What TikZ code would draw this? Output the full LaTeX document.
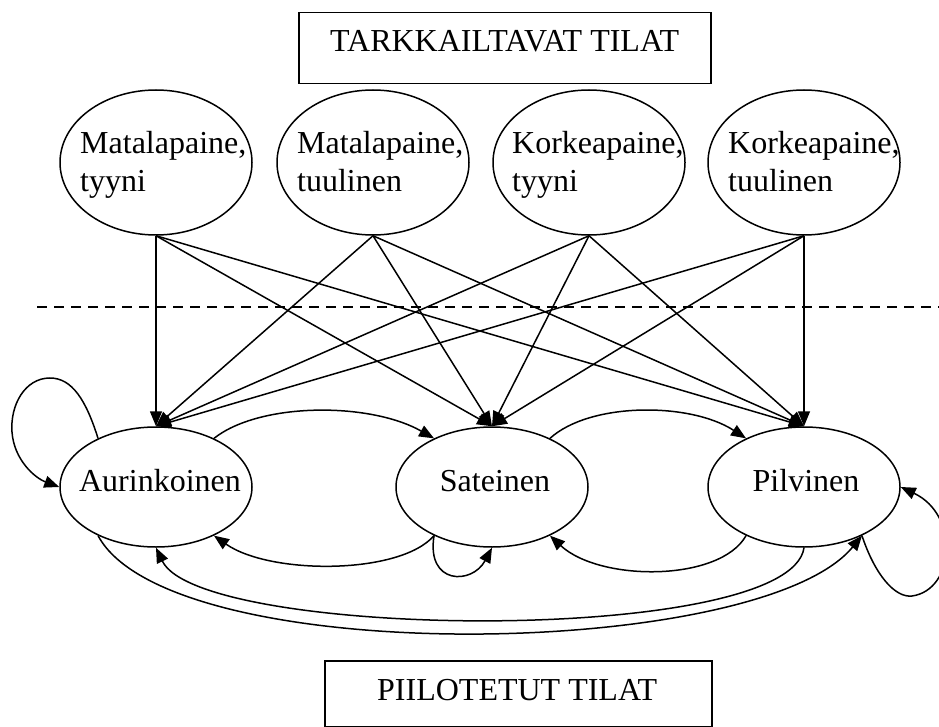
\documentclass[tikz,border=0pt]{standalone}
\usepackage{fontspec}
\setmainfont{Liberation Serif}
\usetikzlibrary{arrows.meta,shapes.geometric}
\begin{document}
\begin{tikzpicture}[x=1pt,y=-1pt,
  every node/.style={font=\fontsize{32}{38}\selectfont},
  line/.style={line width=1.5pt},
  arr/.style={line, -{Triangle[length=15pt,width=12pt]}},
  obs/.style={draw, line width=1.5pt, ellipse, minimum width=192pt, minimum height=145pt, inner sep=0pt},
  hid/.style={draw, line width=1.5pt, ellipse, minimum width=192pt, minimum height=120pt, inner sep=0pt},
  frame/.style={draw, line width=1.5pt, rectangle, inner sep=0pt, anchor=north west},
  lbl/.style={anchor=base west, inner sep=0pt}
]
\useasboundingbox (0,0) rectangle (939,727);

% header box
\node[frame, minimum width=412pt, minimum height=71pt] (obsbox) at (298,12) {};
\node[lbl] (obstitle) at (330,52) {TARKKAILTAVAT TILAT};

% observed states
\node[obs] (m1) at (156,162.5) {};
\node[obs] (m2) at (373,162.5) {};
\node[obs] (m3) at (589,162.5) {};
\node[obs] (m4) at (804,162.5) {};
\node[lbl] (m1a) at (80,154) {Matalapaine,};
\node[lbl] (m1b) at (80,192) {tyyni};
\node[lbl] (m2a) at (297,154) {Matalapaine,};
\node[lbl] (m2b) at (297,192) {tuulinen};
\node[lbl] (m3a) at (512,154) {Korkeapaine,};
\node[lbl] (m3b) at (512,192) {tyyni};
\node[lbl] (m4a) at (728,154) {Korkeapaine,};
\node[lbl] (m4b) at (728,192) {tuulinen};

% separator
\coordinate (sepl) at (37,307);
\coordinate (sepr) at (939,307);
\draw[line, dash pattern=on 10pt off 7pt] (sepl) -- (sepr);

% hidden states
\node[hid] (au) at (156,487) {};
\node[hid] (sa) at (492,487) {};
\node[hid] (pi) at (804,487) {};
\node[anchor=base, inner sep=0pt] (aut) at (160,491) {Aurinkoinen};
\node[anchor=base, inner sep=0pt] (sat) at (495,491) {Sateinen};
\node[anchor=base, inner sep=0pt] (pit) at (806,491) {Pilvinen};

% emissions
\foreach \o in {m1,m2,m3,m4}
  \foreach \h in {au,sa,pi}
    \draw[arr] (\o.south) -- (\h.north);

% transitions
\draw[arr] (au.140) .. controls (86,400) and (72,378) .. (50,378)
  .. controls (25,378) and (10,405) .. (12,432)
  .. controls (14,460) and (35,478) .. (au.west);
\draw[arr] (au.40) .. controls (260,402) and (370,402) .. (sa.140);
\draw[arr] (sa.40) .. controls (590,402) and (690,402) .. (pi.140);
\draw[arr] (sa.220) .. controls (400,575) and (270,575) .. (au.320);
\draw[arr] (pi.220) .. controls (720,582) and (600,582) .. (sa.320);
\draw[arr] (sa.220) .. controls (426,585) and (472,585) .. (sa.south);
\draw[arr] (pi.320) .. controls (875,575) and (895,598) .. (912,596)
  .. controls (955,590) and (960,515) .. (pi.east);
\draw[arr] (pi.south) .. controls (790,646) and (200,640) .. (au.south);
\draw[arr] (au.220) .. controls (170,670) and (760,660) .. (pi.320);

% hidden layer box
\node[frame, minimum width=387pt, minimum height=66pt] (hidbox) at (324,660) {};
\node[lbl] (hidtitle) at (377,700) {PIILOTETUT TILAT};
\end{tikzpicture}
\end{document}
